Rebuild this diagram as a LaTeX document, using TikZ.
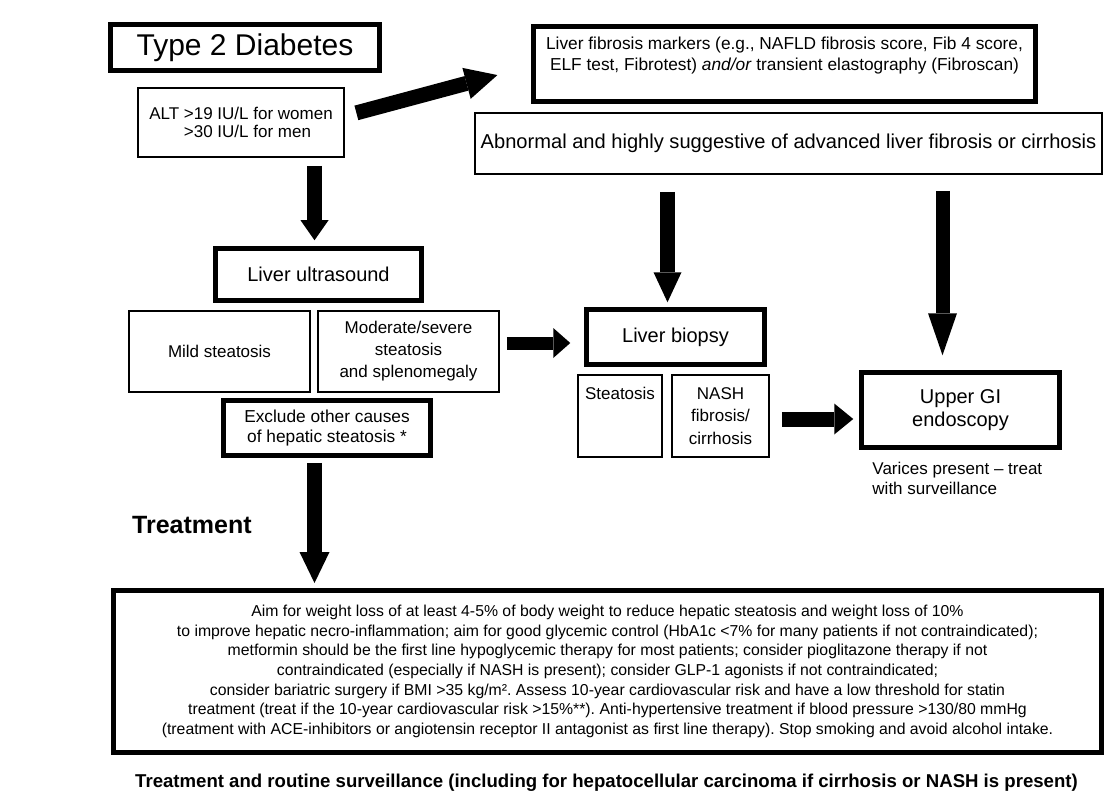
\documentclass[tikz,border=0pt]{standalone}
\usepackage{fontspec}
\setmainfont{Liberation Sans}
\usetikzlibrary{arrows.meta,calc,positioning}
\newcommand{\fsz}[2]{\fontsize{#1pt}{#2pt}\selectfont}
\frenchspacing

\begin{document}
\begin{tikzpicture}[x=1pt,y=-1pt,
  thickbox/.style={draw,line width=4.5pt,inner sep=2pt,align=center},
  thinbox/.style={draw,line width=1.6pt,inner sep=2pt,align=center},
  blockarrow/.style={line width=15pt,shorten <=6pt,shorten >=5pt,
    -{Triangle[width=30pt,length=25pt,line width=0pt]}}]
  \useasboundingbox[fill=white] (0,0) rectangle (1115,794);

  % left column
  \node[thickbox,line width=5pt,minimum width=269pt,minimum height=46pt,font=\fsz{30}{34}] (t2d) at (245,47.5) {Type 2 Diabetes};
  \node[thinbox,minimum width=206pt,minimum height=69pt,align=left,font=\fsz{17}{18}] (alt) at (241,122.5) {ALT >19 IU/L for women\\\phantom{ALT }>30 IU/L for men};
  \node[thickbox,minimum width=206pt,minimum height=52pt,font=\fsz{20}{24}] (us) at (318.5,274.5) {Liver ultrasound};
  \node[thinbox,minimum width=181pt,minimum height=81pt,font=\fsz{17}{22}] (mild) at (219.5,351.5) {Mild steatosis};
  \node[thinbox,minimum width=181pt,minimum height=81pt,font=\fsz{17}{22}] (mod) at (408.5,351.5) {Moderate/severe\\steatosis\\and splenomegaly};
  \node[thickbox,minimum width=207pt,minimum height=55pt,font=\fsz{17.3}{20}] (excl) at (327,428) {Exclude other causes\\of hepatic steatosis *};
  \node[anchor=west,inner sep=0pt,font=\fsz{25}{28}\bfseries] (treat) at (132,525) {Treatment};

  % right part
  \node[thickbox,minimum width=502pt,minimum height=75pt,font=\fsz{17.3}{21}] (fib) at (784.5,64) {Liver fibrosis markers (e.g., NAFLD fibrosis score, Fib 4 score,\\ELF test, Fibrotest) \emph{and/or} transient elastography (Fibroscan)\\\mbox{}};
  \node[thinbox,minimum width=627pt,minimum height=61pt,font=\fsz{20.1}{24}] (abn) at (788.5,143.5) {Abnormal and highly suggestive of advanced liver fibrosis or cirrhosis};
  \node[thickbox,minimum width=178pt,minimum height=55pt,font=\fsz{20}{24}] (bio) at (675.5,337) {Liver biopsy};
  \node[thinbox,minimum width=84pt,minimum height=82pt,font=\fsz{17}{22.5}] (steat) at (620,416) {Steatosis\\\mbox{}\\\mbox{}};
  \node[thinbox,minimum width=97pt,minimum height=82pt,font=\fsz{17}{22.5}] (nash) at (720.5,416) {NASH\\fibrosis/\\cirrhosis};
  \node[thickbox,minimum width=198pt,minimum height=75pt,font=\fsz{20}{23}] (gi) at (960.5,410) {Upper GI\\endoscopy};
  \node[below right=12pt and 13pt of gi.south west,inner sep=0pt,align=left,font=\fsz{17}{20}] (var) {Varices present -- treat\\with surveillance};

  % treatment box
  \node[thickbox,line width=5pt,minimum width=988pt,minimum height=162pt,font=\fsz{15.8}{19.7}] (tx) at (607.5,671.5) {Aim for weight loss of at least 4-5\% of body weight to reduce hepatic steatosis and weight loss of 10\%\\
    to improve hepatic necro-inflammation; aim for good glycemic control (HbA1c <7\% for many patients if not contraindicated);\\
    metformin should be the first line hypoglycemic therapy for most patients; consider pioglitazone therapy if not\\
    contraindicated (especially if NASH is present); consider GLP-1 agonists if not contraindicated;\\
    consider bariatric surgery if BMI >35 kg/m². Assess 10-year cardiovascular risk and have a low threshold for statin\\
    treatment (treat if the 10-year cardiovascular risk >15\%**). Anti-hypertensive treatment if blood pressure >130/80 mmHg\\
    (treatment with ACE-inhibitors or angiotensin receptor II antagonist as first line therapy). Stop smoking and avoid alcohol intake.};
  \node[inner sep=0pt,font=\fsz{18.6}{22}\bfseries] (surv) at (606.5,783) {Treatment and routine surveillance (including for hepatocellular carcinoma if cirrhosis or NASH is present)};

  % arrows
  \coordinate (bioin) at ($(bio.north)+(-8,0)$);
  \coordinate (giin) at ($(gi.north)+(-18,0)$);
  \coordinate (usin) at ($(us.north)+(-4,0)$);
  \coordinate (modout) at ([yshift=8.5pt]mod.east);
  \draw[blockarrow,shorten <=8pt,shorten >=6pt,-{Triangle[width=28pt,length=20pt,line width=0pt]}] (usin |- alt.south) -- (usin);
  \draw[blockarrow,shorten <=12pt,shorten >=35pt,-{Triangle[width=32pt,length=32pt,line width=0pt]}] ($(alt.east)+(0,-6.5)$) -- ($(fib.west)+(0,2)$);
  \draw[blockarrow,line width=13pt,shorten <=7pt,shorten >=14pt,-{Triangle[width=30pt,length=17pt,line width=0pt]}] (modout) -- (modout -| bio.west);
  \draw[blockarrow,shorten <=5pt,shorten >=5pt,-{Triangle[width=30pt,length=31pt,line width=0pt]}] (excl.south -| usin) -- (tx.north -| usin);
  \draw[blockarrow,shorten <=17pt,shorten >=5pt,-{Triangle[width=28pt,length=30pt,line width=0pt]}] (bioin |- abn.south) -- (bioin);
  \draw[blockarrow,line width=14pt,shorten <=16pt,shorten >=15pt,-{Triangle[width=29pt,length=42pt,line width=0pt]}] (giin |- abn.south) -- (giin);
  \draw[blockarrow,shorten <=12pt,shorten >=6pt,-{Triangle[width=31pt,length=19pt,line width=0pt]}] ([yshift=-3pt]nash.east) -- ([yshift=-3pt]nash.east -| gi.west);
\end{tikzpicture}
\end{document}
